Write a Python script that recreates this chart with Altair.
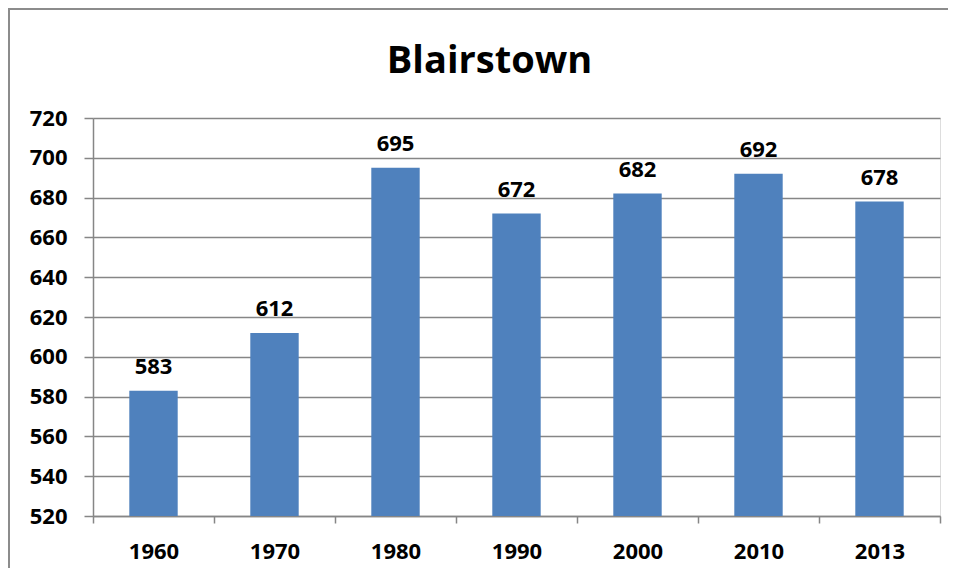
import altair as alt
import pandas as pd

years = ["1960", "1970", "1980", "1990", "2000", "2010", "2013"]
population = [583, 612, 695, 672, 682, 692, 678]
chart_title = "Blairstown"

df = pd.DataFrame({"year": years, "pop": population})

FONT = "Open Sans"
W, H = 847, 398

xenc = alt.X(
    "year:N",
    sort=years,
    title=None,
    scale=alt.Scale(paddingInner=0, paddingOuter=0),
    axis=alt.Axis(
        labelAngle=0,
        tickBand="extent",
        tickSize=7,
        tickColor="#868686",
        tickWidth=1.5,
        domainColor="#868686",
        domainWidth=1.5,
        labelPadding=18,
        labelFont=FONT,
        labelFontSize=22,
        labelFontWeight="bold",
        labelColor="black",
        grid=False,
    ),
)

yenc = alt.Y(
    "pop:Q",
    title=None,
    scale=alt.Scale(domain=[520, 720], zero=False, nice=False),
    axis=alt.Axis(
        values=list(range(520, 721, 20)),
        labelOverlap=False,
        tickSize=9,
        tickColor="#868686",
        tickWidth=1.5,
        domainColor="#868686",
        domainWidth=1.5,
        gridColor="#868686",
        gridWidth=1.5,
        labelPadding=17,
        labelFont=FONT,
        labelFontSize=22,
        labelFontWeight="bold",
        labelColor="black",
    ),
)

base = alt.Chart(df)

bars = base.mark_bar(
    color="#4F81BD", clip=True, width=alt.RelativeBandSize(0.4)
).encode(x=xenc, y=yenc)

labels = base.mark_text(
    font=FONT, fontSize=22, fontWeight="bold", color="black",
    baseline="alphabetic", dy=-17,
).encode(x=xenc, y=yenc, text="pop:Q")

border = alt.Chart(pd.DataFrame({"a": [0]})).mark_rect(
    fill=None, stroke="#8c8c8c", strokeWidth=2, clip=False
).encode(
    x=alt.value(-84), x2=alt.value(W + 60), y=alt.value(-109), y2=alt.value(H + 80)
)

title = alt.Chart(pd.DataFrame({"t": [chart_title]})).mark_text(
    font=FONT, fontSize=38, fontWeight="bold", color="black",
    baseline="alphabetic", align="center",
).encode(x=alt.value(396.5), y=alt.value(-45), text="t:N")

chart = alt.layer(bars, labels, border, title).properties(
    width=W,
    height=H,
    autosize=alt.AutoSizeParams(type="none"),
    padding={"left": 85, "top": 110, "right": 8, "bottom": 52},
).configure_view(stroke=None).configure(background="white")

chart.save("out.html", embed_options={"renderer": "svg", "actions": False})
